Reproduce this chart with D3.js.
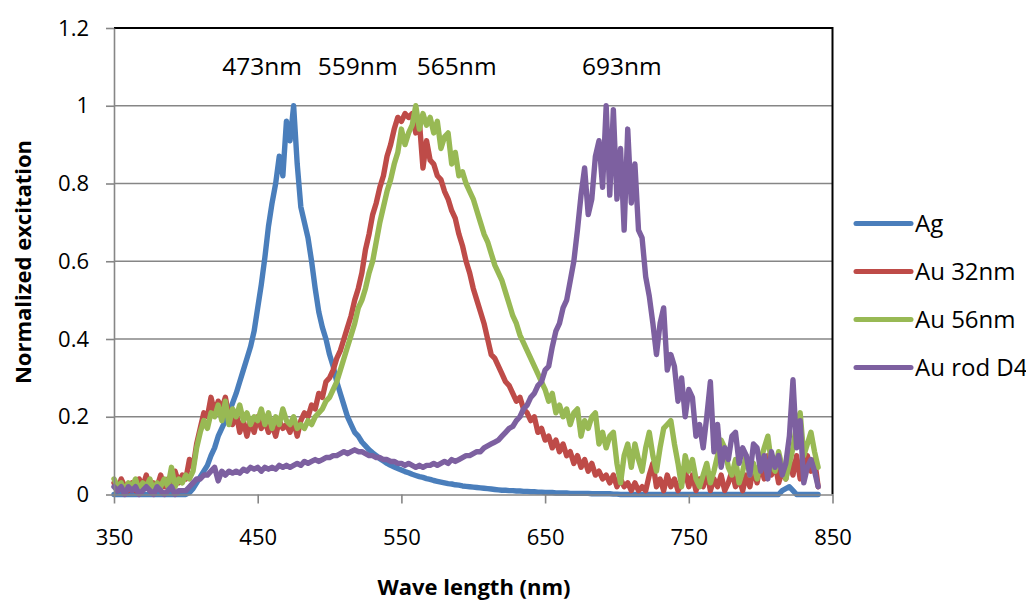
<!DOCTYPE html>
<html>
<head>
<meta charset="utf-8">
<script src="https://cdn.jsdelivr.net/npm/d3@7"></script>
<style>
  body { margin: 0; background: #fff; }
  svg { display: block; font-family: "Open Sans", sans-serif; }
  .axis path, .axis line { stroke: #868686; stroke-width: 1.6; }
  .axis text { fill: #000; font-size: 22px; }
  .grid line { stroke: #868686; stroke-width: 1.6; }
  .series { fill: none; stroke-width: 5.4; stroke-linejoin: round; stroke-linecap: round; }
</style>
</head>
<body>
<div id="chart"></div>
<script>
// sampling grid of the spectra: 350 nm, then every 2.5 nm up to 840 nm
const waveStart = 350;
const waveStep = 2.5;

const agValues = [
  0, 0, 0, 0, 0, 0, 0, 0, 0, 0,
  0, 0, 0, 0, 0, 0, 0, 0, 0, 0,
  0, 0.005, 0.015, 0.03, 0.045, 0.06, 0.075, 0.1, 0.12, 0.15,
  0.17, 0.19, 0.21, 0.235, 0.26, 0.29, 0.32, 0.35, 0.38, 0.42,
  0.48, 0.54, 0.61, 0.69, 0.75, 0.8, 0.87, 0.82, 0.96, 0.91,
  1.0, 0.85, 0.74, 0.7, 0.66, 0.6, 0.53, 0.47, 0.43, 0.4,
  0.36, 0.33, 0.29, 0.26, 0.23, 0.2, 0.18, 0.16, 0.15, 0.135,
  0.125, 0.115, 0.107, 0.1, 0.092, 0.086, 0.08, 0.075, 0.071, 0.067,
  0.063, 0.059, 0.056, 0.052, 0.049, 0.046, 0.044, 0.041, 0.039, 0.036,
  0.034, 0.032, 0.03, 0.028, 0.027, 0.025, 0.024, 0.022, 0.021, 0.02,
  0.019, 0.018, 0.017, 0.016, 0.015, 0.014, 0.013, 0.012, 0.011, 0.011,
  0.01, 0.01, 0.009, 0.009, 0.008, 0.008, 0.007, 0.007, 0.006, 0.006,
  0.005, 0.005, 0.005, 0.004, 0.004, 0.004, 0.004, 0.003, 0.003, 0.003,
  0.003, 0.003, 0.003, 0.002, 0.002, 0.002, 0.002, 0.002, 0.002, 0.001,
  0.001, 0, 0, 0, 0, 0, 0, 0, 0, 0,
  0, 0, 0, 0, 0, 0, 0, 0, 0, 0,
  0, 0, 0, 0, 0, 0, 0, 0, 0, 0,
  0, 0, 0, 0, 0, 0, 0, 0, 0, 0,
  0, 0, 0, 0, 0, 0, 0.01, 0.015, 0.02, 0.01,
  0, 0, 0, 0, 0, 0, 0
];

const au32Values = [
  0.03, 0.01, 0.04, 0.02, 0.01, 0.03, 0.01, 0.04, 0.02, 0.05,
  0.01, 0.03, 0.02, 0.05, 0.02, 0.04, 0.03, 0.06, 0.03, 0.05,
  0.04, 0.09, 0.07, 0.13, 0.17, 0.21, 0.2, 0.25, 0.21, 0.24,
  0.22, 0.25, 0.2, 0.18, 0.21, 0.16, 0.19, 0.15, 0.19, 0.16,
  0.2, 0.17, 0.19, 0.16, 0.18, 0.15, 0.19, 0.17, 0.18, 0.16,
  0.19, 0.15, 0.19, 0.21, 0.2, 0.23, 0.22, 0.26, 0.25, 0.29,
  0.3, 0.32, 0.35, 0.37, 0.4, 0.43, 0.46, 0.5, 0.53, 0.57,
  0.63, 0.67, 0.72, 0.75, 0.79, 0.82, 0.87, 0.9, 0.94, 0.97,
  0.96, 0.98, 0.97, 0.98, 0.93, 0.96, 0.84, 0.91, 0.86, 0.85,
  0.82, 0.81, 0.78, 0.76, 0.73, 0.71, 0.67, 0.64, 0.6, 0.57,
  0.53, 0.5, 0.47, 0.44, 0.4, 0.36, 0.35, 0.33, 0.31, 0.29,
  0.28, 0.26, 0.24, 0.25, 0.22, 0.21, 0.19, 0.2, 0.16, 0.17,
  0.14, 0.15, 0.12, 0.14, 0.11, 0.13, 0.1, 0.11, 0.08, 0.1,
  0.07, 0.09, 0.06, 0.08, 0.05, 0.06, 0.04, 0.05, 0.03, 0.05,
  0.02, 0.04, 0.02, 0.03, 0.01, 0.03, 0.01, 0.02, 0.01, 0.05,
  0.08, 0.02, 0.04, 0.01, 0.05, 0.02, 0.04, 0.01, 0.03, 0.06,
  0.02, 0.05, 0.01, 0.04, 0.02, 0.06, 0.01, 0.04, 0.02, 0.05,
  0.01, 0.03, 0.06, 0.02, 0.04, 0.01, 0.05, 0.02, 0.07, 0.03,
  0.08, 0.04, 0.1, 0.05, 0.08, 0.03, 0.06, 0.04, 0.09, 0.05,
  0.1, 0.04, 0.08, 0.1, 0.06, 0.09, 0.02
];

const au56Values = [
  0.04, 0.02, 0.03, 0.01, 0.03, 0.02, 0.04, 0.01, 0.03, 0.02,
  0.04, 0.01, 0.03, 0.02, 0.04, 0.02, 0.07, 0.02, 0.04, 0.03,
  0.05, 0.04, 0.06, 0.12, 0.16, 0.19, 0.17, 0.21, 0.2, 0.23,
  0.19, 0.24, 0.18, 0.22, 0.2, 0.23, 0.19, 0.21, 0.18, 0.2,
  0.19, 0.22, 0.18, 0.21, 0.17, 0.2, 0.18, 0.22, 0.19, 0.18,
  0.2, 0.17, 0.18, 0.17, 0.19, 0.18, 0.2, 0.21, 0.22, 0.24,
  0.25, 0.27, 0.29, 0.32, 0.35, 0.38, 0.41, 0.44, 0.48, 0.5,
  0.53, 0.57, 0.6, 0.65, 0.7, 0.74, 0.78, 0.81, 0.85, 0.88,
  0.94, 0.9, 0.93, 0.95, 1.0, 0.94, 0.98, 0.95, 0.97, 0.93,
  0.96, 0.89, 0.92, 0.93, 0.85, 0.88, 0.82, 0.83, 0.8, 0.78,
  0.76, 0.73, 0.7, 0.67, 0.65, 0.62, 0.59, 0.57, 0.55, 0.52,
  0.49, 0.46, 0.44, 0.41, 0.39, 0.37, 0.35, 0.33, 0.31, 0.29,
  0.27, 0.24, 0.26, 0.21, 0.23, 0.2, 0.22, 0.18, 0.21, 0.22,
  0.15, 0.19, 0.17, 0.2, 0.21, 0.13, 0.16, 0.12, 0.15, 0.16,
  0.08, 0.03, 0.1, 0.13, 0.07, 0.13, 0.09, 0.06, 0.12, 0.16,
  0.1, 0.06, 0.12, 0.17, 0.18, 0.19, 0.13, 0.08, 0.02, 0.1,
  0.06, 0.09, 0.04, 0.02, 0.05, 0.08, 0.03, 0.06, 0.1, 0.14,
  0.12, 0.07, 0.05, 0.09, 0.03, 0.06, 0.1, 0.05, 0.08, 0.04,
  0.09, 0.12, 0.15, 0.08, 0.06, 0.11, 0.07, 0.04, 0.08, 0.12,
  0.18, 0.21, 0.1, 0.13, 0.16, 0.11, 0.07
];

const auRodValues = [
  0.02, 0.01, 0.02, 0, 0.02, 0.01, 0.02, 0, 0.01, 0.02,
  0.01, 0, 0.02, 0.01, 0, 0.01, 0.02, 0, 0.01, 0.01,
  0.01, 0.02, 0.03, 0.04, 0.04, 0.05, 0.05, 0.06, 0.07, 0.035,
  0.06, 0.05, 0.06, 0.055, 0.06, 0.055, 0.065, 0.06, 0.07, 0.065,
  0.07, 0.06, 0.07, 0.065, 0.07, 0.065, 0.075, 0.07, 0.075, 0.07,
  0.075, 0.08, 0.075, 0.085, 0.08, 0.085, 0.09, 0.085, 0.09, 0.095,
  0.095, 0.1, 0.1, 0.105, 0.11, 0.105, 0.11, 0.115, 0.11, 0.11,
  0.105, 0.1, 0.1, 0.095, 0.095, 0.09, 0.09, 0.085, 0.085, 0.08,
  0.08, 0.075, 0.08, 0.075, 0.07, 0.075, 0.07, 0.075, 0.075, 0.08,
  0.075, 0.08, 0.085, 0.08, 0.09, 0.085, 0.09, 0.095, 0.1, 0.1,
  0.105, 0.11, 0.11, 0.12, 0.125, 0.13, 0.135, 0.14, 0.15, 0.16,
  0.17, 0.175, 0.19, 0.2, 0.22, 0.23, 0.25, 0.26, 0.28, 0.29,
  0.32, 0.33, 0.38, 0.42, 0.44, 0.48, 0.5, 0.55, 0.6, 0.68,
  0.77, 0.84, 0.72, 0.76, 0.87, 0.91, 0.79, 1.0, 0.77, 0.99,
  0.76, 0.89, 0.68, 0.94, 0.75, 0.85, 0.68, 0.66, 0.56, 0.51,
  0.44, 0.36, 0.44, 0.48, 0.32, 0.36, 0.33, 0.24, 0.3, 0.2,
  0.27, 0.25, 0.15, 0.18, 0.12, 0.2, 0.29, 0.11, 0.18, 0.07,
  0.12, 0.09, 0.15, 0.16, 0.08, 0.12, 0.1, 0.05, 0.13, 0.12,
  0.06, 0.1, 0.04, 0.11, 0.07, 0.1, 0.05, 0.08, 0.15, 0.295,
  0.12, 0.19, 0.03, 0.07, 0.09, 0.06, 0.02
];

const seriesNames = ["Ag", "Au 32nm", "Au 56nm", "Au rod D4"];
const seriesColors = ["#4A7EBB", "#BE4B48", "#98B954", "#7D60A0"];

const xTicks = [350, 450, 550, 650, 750, 850];
const yTicks = [0, 0.2, 0.4, 0.6, 0.8, 1, 1.2];

// peak labels, placed at a wavelength / value position
const peakLabels = ["473nm", "559nm", "565nm", "693nm"];
const peakLabelX = [453, 519.6, 588.5, 703.4];
const peakLabelY = 1.08;

const width = 1026, height = 603;
const plot = { left: 114, right: 832.5, top: 28, bottom: 494.5 };

const svg = d3.select("#chart").append("svg")
    .attr("width", width)
    .attr("height", height);

const x = d3.scaleLinear().domain([350, 850]).range([plot.left, plot.right]);
const y = d3.scaleLinear().domain([0, 1.2]).range([plot.bottom, plot.top]);

// horizontal gridlines
svg.append("g").attr("class", "grid")
    .selectAll("line")
    .data(yTicks.slice(1))
    .enter().append("line")
    .attr("x1", plot.left).attr("x2", plot.right)
    .attr("y1", d => y(d)).attr("y2", d => y(d));

// plot area border (top and right are black)
svg.append("path")
    .attr("d", `M${plot.left},${plot.top}H${plot.right}V${plot.bottom}`)
    .attr("fill", "none")
    .attr("stroke", "#000")
    .attr("stroke-width", 2);

// spectra
const allValues = [agValues, au32Values, au56Values, auRodValues];
const line = d3.line()
    .x((d, i) => x(waveStart + i * waveStep))
    .y(d => y(d));

svg.append("g")
    .selectAll("path")
    .data(allValues)
    .enter().append("path")
    .attr("class", "series")
    .attr("stroke", (d, i) => seriesColors[i])
    .attr("d", line);

// axes
svg.append("g").attr("class", "axis")
    .attr("transform", `translate(0,${plot.bottom})`)
    .call(d3.axisBottom(x).tickValues(xTicks).tickSize(9).tickPadding(26).tickSizeOuter(0))
    .call(g => g.selectAll("text").attr("font-family", "Open Sans"));

svg.append("g").attr("class", "axis")
    .attr("transform", `translate(${plot.left},0)`)
    .call(d3.axisLeft(y).tickValues(yTicks).tickSize(8).tickPadding(17).tickSizeOuter(0)
        .tickFormat(d => d3.format("~g")(d)))
    .call(g => g.selectAll("text").attr("font-family", "Open Sans"));

// peak annotations
svg.append("g")
    .selectAll("text")
    .data(peakLabels)
    .enter().append("text")
    .attr("x", (d, i) => x(peakLabelX[i]))
    .attr("y", y(peakLabelY))
    .attr("text-anchor", "middle")
    .attr("font-size", 24.5)
    .text(d => d);

// axis titles
svg.append("text")
    .attr("x", 474)
    .attr("y", 595)
    .attr("text-anchor", "middle")
    .attr("font-size", 22)
    .attr("font-weight", "bold")
    .text("Wave length (nm)");

svg.append("text")
    .attr("transform", "translate(31,262) rotate(-90)")
    .attr("text-anchor", "middle")
    .attr("font-size", 22)
    .attr("font-weight", "bold")
    .text("Normalized excitation");

// legend
const legendY = [223.5, 271.5, 319.5, 367.5];
const legend = svg.append("g")
    .selectAll("g")
    .data(seriesNames)
    .enter().append("g")
    .attr("transform", (d, i) => `translate(856,${legendY[i]})`);

legend.append("line")
    .attr("x1", 0).attr("x2", 55)
    .attr("stroke", (d, i) => seriesColors[i])
    .attr("stroke-width", 5)
    .attr("stroke-linecap", "round");

legend.append("text")
    .attr("x", 59)
    .attr("y", 8.5)
    .attr("font-size", 24)
    .text(d => d);
</script>
</body>
</html>
